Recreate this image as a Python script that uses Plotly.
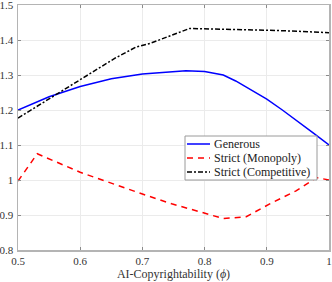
import plotly.graph_objects as go

phi_gen = [0.5, 0.55, 0.6, 0.65, 0.7, 0.75, 0.77, 0.8, 0.83, 0.85, 0.87, 0.9, 0.925, 0.95, 0.975, 1.0]
gen = [1.2, 1.238, 1.267, 1.289, 1.303, 1.311, 1.3125, 1.31, 1.30, 1.283, 1.262, 1.231, 1.20, 1.168, 1.134, 1.10]

phi_mon = [0.5, 0.531, 0.6, 0.65, 0.7, 0.747, 0.83, 0.867, 0.904, 0.947, 0.98, 1.0]
mon = [0.997, 1.075, 1.022, 0.99, 0.96, 0.932, 0.89, 0.895, 0.931, 0.969, 1.007, 1.0]

phi_comp = [0.5, 0.656, 0.69, 0.712, 0.776, 0.85, 0.9, 0.95, 1.0]
comp = [1.177, 1.348, 1.38, 1.39, 1.433, 1.431, 1.428, 1.425, 1.421]

series_names = ["Generous", "Strict (Monopoly)", "Strict (Competitive)"]
series_colors = ["#0000ff", "#ff0000", "#000000"]
series_dash = ["solid", "6px,5px", "5px,2px,2px,2px"]

x_ticks = [0.5, 0.6, 0.7, 0.8, 0.9, 1.0]
x_labels = ["0.5", "0.6", "0.7", "0.8", "0.9", "1"]
y_ticks = [0.8, 0.9, 1.0, 1.1, 1.2, 1.3, 1.4, 1.5]
y_labels = ["0.8", "0.9", "1", "1.1", "1.2", "1.3", "1.4", "1.5"]

FONT = "Liberation Serif"
TXT = "#333333"

fig = go.Figure()
for xs, ys, nm, col, dsh in zip([phi_gen, phi_mon, phi_comp], [gen, mon, comp],
                                 series_names, series_colors, series_dash):
    fig.add_trace(go.Scatter(x=xs, y=ys, mode="lines", name=nm, showlegend=False,
                             line=dict(color=col, width=1.5, dash=dsh)))

axis_common = dict(
    showline=True, linecolor="#b4b4b4", linewidth=1.5, mirror="ticks",
    ticks="inside", ticklen=3, tickcolor="#8a8a8a",
    showgrid=True, gridcolor="#ebebeb", gridwidth=1, zeroline=False,
    automargin=False, ticklabeloverflow="allow",
    tickfont=dict(family=FONT, size=11, color=TXT),
)

fig.update_xaxes(range=[0.5, 1.0], tickvals=x_ticks, ticktext=x_labels,
                 title=dict(text="AI-Copyrightability (<i>ϕ</i>)",
                            font=dict(family=FONT, size=12, color=TXT), standoff=2),
                 **axis_common)
fig.update_yaxes(range=[0.8, 1.5], tickvals=y_ticks, ticktext=y_labels, ticklabelstandoff=1,
                 **axis_common)

# custom legend box (MATLAB-style), in paper coordinates
L, T, R, B = 18, 5, 329, 250
def px(xp):
    return (xp - L) / (R - L)
def py(yp):
    return (B - yp) / (B - T)

shapes = [dict(type="rect", xref="paper", yref="paper",
               x0=px(185), x1=px(317), y0=py(180), y1=py(136),
               fillcolor="white", line=dict(color="#9a9a9a", width=1), layer="above")]
annotations = []
rows = [144, 158, 172]
for nm, col, dsh, ry in zip(series_names, series_colors, series_dash, rows):
    shapes.append(dict(type="line", xref="paper", yref="paper",
                       x0=px(187), x1=px(210), y0=py(ry), y1=py(ry),
                       line=dict(color=col, width=1.5, dash=dsh), layer="above"))
    annotations.append(dict(xref="paper", yref="paper", x=px(212), y=py(ry),
                            xanchor="left", yanchor="middle", showarrow=False,
                            text=nm, font=dict(family=FONT, size=12, color="#222222")))

fig.update_layout(
    width=332, height=282,
    margin=dict(l=L, r=332 - R, t=T, b=282 - B),
    plot_bgcolor="white", paper_bgcolor="white",
    font=dict(family=FONT, size=11, color=TXT),
    showlegend=False,
    shapes=shapes, annotations=annotations,
)

fig.write_html("out.html", config={"displayModeBar": False, "staticPlot": True},
               post_script="document.body.style.margin='0px';document.body.style.overflow='hidden';")
